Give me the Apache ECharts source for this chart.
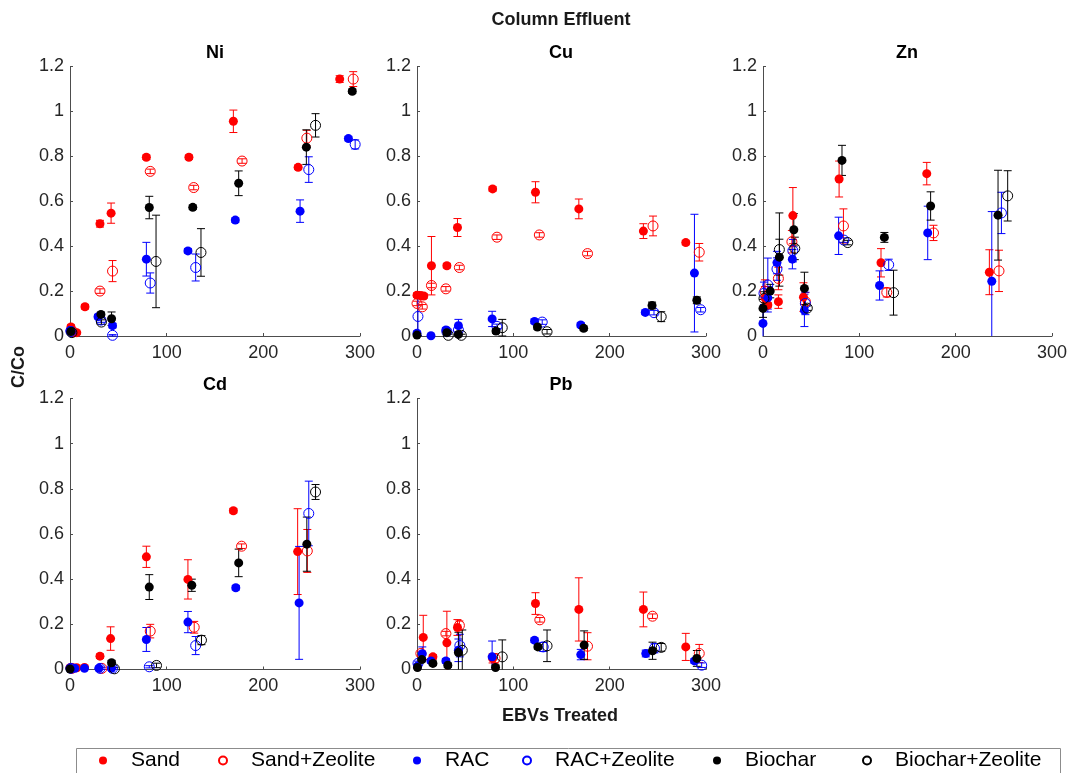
<!DOCTYPE html>
<html>
<head>
<meta charset="utf-8">
<script src="https://cdn.jsdelivr.net/npm/echarts@6/dist/echarts.min.js"></script>
<style>
html,body{margin:0;padding:0;background:#fff;}
#chart{width:1070px;height:773px;}
</style>
</head>
<body>
<div id="chart"></div>
<script>
// ---- Data: each point is [EBVs treated, C/Co, error half-width] ----
const metals = ['Ni', 'Cu', 'Zn', 'Cd', 'Pb'];
const materials = ['Sand', 'Sand+Zeolite', 'RAC', 'RAC+Zeolite', 'Biochar', 'Biochar+Zeolite'];
const xTicks = [0, 100, 200, 300];
const yTicks = [0, 0.2, 0.4, 0.6, 0.8, 1, 1.2];

const niSand = [[1,0.04,0.01],[7,0.015,0.005],[15.5,0.13,0.01],[31,0.50,0.015],[42.5,0.547,0.045],[79,0.796,0.01],[123,0.796,0.01],[169,0.956,0.05],[236,0.751,0.01],[279,1.144,0.015]];
const niSandZ = [[3,0.02,0.01],[31,0.20,0.01],[44,0.289,0.047],[83,0.733,0.01],[128,0.661,0.01],[178,0.779,0.01],[245,0.881,0.035],[293,1.144,0.033]];
const niRac = [[0,0.024,0.01],[29,0.086,0.01],[44,0.046,0.01],[79,0.342,0.075],[122,0.379,0.01],[171,0.516,0.01],[238,0.556,0.05],[288,0.879,0.01]];
const niRacZ = [[1,0.02,0.01],[32,0.071,0.01],[44,0.003,0.003],[83,0.236,0.045],[130,0.305,0.06],[247,0.741,0.057],[295,0.853,0.02]];
const niBio = [[1,0.02,0.01],[32,0.096,0.01],[43,0.077,0.03],[82,0.572,0.05],[127,0.573,0.01],[174.5,0.68,0.055],[244.5,0.841,0.077],[292,1.09,0.01]];
const niBioZ = [[2,0.015,0.01],[32.5,0.062,0.01],[89,0.332,0.206],[135.5,0.372,0.106],[254,0.938,0.052]];

const cuSand = [[0,0.182,0.01],[4,0.18,0.01],[7,0.178,0.01],[15,0.313,0.13],[31,0.313,0.01],[42,0.483,0.04],[78.5,0.655,0.01],[123,0.64,0.047],[168,0.566,0.044],[235,0.467,0.033],[279,0.416,0.01]];
const cuSandZ = [[0,0.145,0.01],[5.5,0.13,0.01],[15,0.225,0.01],[30,0.21,0.01],[44,0.305,0.01],[83,0.44,0.01],[127,0.45,0.01],[177,0.367,0.01],[245,0.49,0.044],[293,0.373,0.039]];
const cuRac = [[0,0.012,0.01],[14.5,0.001,0.003],[30,0.027,0.01],[43,0.046,0.028],[78,0.076,0.034],[122,0.065,0.01],[170,0.049,0.01],[237,0.105,0.01],[288,0.28,0.262]];
const cuRacZ = [[1,0.087,0.085],[31,0.02,0.01],[43,0.027,0.01],[83,0.043,0.01],[130,0.062,0.01],[246,0.104,0.01],[294.5,0.117,0.01]];
const cuBio = [[0,0.004,0.01],[31,0.015,0.01],[43,0.007,0.005],[82,0.022,0.01],[125,0.04,0.01],[173,0.034,0.01],[244,0.136,0.015],[290.5,0.159,0.015]];
const cuBioZ = [[32.5,0.003,0.005],[46,0.003,0.005],[88.5,0.037,0.037],[135,0.019,0.01],[253.5,0.086,0.022]];

const znSand = [[2,0.17,0.05],[5,0.138,0.01],[16,0.153,0.03],[31,0.536,0.125],[42,0.173,0.064],[79,0.699,0.08],[122.5,0.326,0.063],[170,0.723,0.05],[235,0.284,0.1]];
const znSandZ = [[2,0.2,0.05],[16,0.256,0.05],[30,0.42,0.05],[44,0.153,0.04],[83.5,0.49,0.076],[128.5,0.194,0.02],[177,0.459,0.034],[245,0.29,0.092]];
const znRac = [[0,0.056,0.07],[5,0.17,0.05],[14.5,0.327,0.05],[30.5,0.342,0.043],[43,0.114,0.072],[78.5,0.446,0.083],[121,0.225,0.065],[171,0.459,0.119],[237.5,0.244,0.31]];
const znRacZ = [[1,0.19,0.05],[5,0.227,0.12],[14.5,0.298,0.05],[31,0.38,0.05],[44,0.145,0.05],[84,0.427,0.01],[130.5,0.317,0.025],[247.5,0.548,0.092]];
const znBio = [[0,0.123,0.04],[7.5,0.2,0.03],[17,0.351,0.08],[32,0.473,0.072],[43,0.212,0.072],[82,0.782,0.067],[126,0.439,0.022],[174,0.579,0.063],[244,0.538,0.2]];
const znBioZ = [[1,0.167,0.03],[17,0.385,0.163],[33,0.39,0.05],[46,0.124,0.01],[88,0.416,0.01],[135.5,0.193,0.1],[254,0.624,0.112]];

const cdSand = [[0,0.008,0.005],[7,0.008,0.005],[15,0.009,0.005],[31,0.059,0.01],[42,0.137,0.052],[79,0.499,0.047],[122,0.399,0.087],[169,0.703,0.01],[235.5,0.522,0.19]];
const cdSandZ = [[2,0.005,0.005],[33,0.005,0.005],[83,0.17,0.03],[128.5,0.187,0.026],[177.5,0.546,0.01],[245.5,0.525,0.095]];
const cdRac = [[0,0.005,0.005],[5,0.005,0.005],[15,0.005,0.005],[30,0.005,0.005],[43,0.005,0.005],[79,0.133,0.053],[122,0.21,0.047],[171.5,0.362,0.01],[237,0.295,0.25]];
const cdRacZ = [[1,0.005,0.005],[31,0.005,0.005],[44,0.005,0.005],[82,0.012,0.005],[130,0.106,0.04],[247,0.691,0.143]];
const cdBio = [[0,0.002,0.005],[43,0.03,0.01],[82,0.365,0.055],[126,0.373,0.027],[174.5,0.472,0.061],[245,0.555,0.12]];
const cdBioZ = [[46,0.003,0.005],[89.5,0.018,0.01],[136,0.13,0.02],[254,0.786,0.033]];

const pbSand = [[6.5,0.142,0.098],[16.5,0.056,0.01],[31,0.118,0.14],[42,0.186,0.035],[78.5,0.049,0.02],[123,0.292,0.048],[168,0.266,0.14],[235,0.266,0.077],[279,0.1,0.06]];
const pbSandZ = [[4,0.071,0.01],[30,0.159,0.01],[44,0.195,0.02],[81,0.049,0.02],[127.5,0.22,0.01],[177,0.103,0.06],[244.5,0.236,0.01],[293,0.071,0.04]];
const pbRac = [[0.5,0.015,0.01],[5.5,0.07,0.03],[14.5,0.038,0.01],[30,0.038,0.01],[43,0.085,0.05],[78,0.056,0.07],[122,0.13,0.01],[170,0.066,0.023],[237.5,0.071,0.015],[288,0.038,0.01]];
const pbRacZ = [[1,0.027,0.01],[44.5,0.106,0.05],[131,0.1,0.02],[246.5,0.094,0.02],[295.5,0.019,0.01]];
const pbBio = [[0.5,0.009,0.01],[5,0.044,0.01],[16.5,0.027,0.01],[32,0.019,0.01],[43,0.075,0.09],[81.5,0.009,0.01],[125.5,0.1,0.01],[173.5,0.108,0.063],[244.5,0.083,0.038],[290.5,0.049,0.035]];
const pbBioZ = [[47,0.085,0.09],[88.5,0.056,0.075],[135,0.105,0.07],[253.5,0.098,0.017]];

const panelData = [
  [niSand, niSandZ, niRac, niRacZ, niBio, niBioZ],
  [cuSand, cuSandZ, cuRac, cuRacZ, cuBio, cuBioZ],
  [znSand, znSandZ, znRac, znRacZ, znBio, znBioZ],
  [cdSand, cdSandZ, cdRac, cdRacZ, cdBio, cdBioZ],
  [pbSand, pbSandZ, pbRac, pbRacZ, pbBio, pbBioZ]
];

// ---- Styling / layout ----
const colors = ['#ff0000', '#ff0000', '#0000ff', '#0000ff', '#000000', '#000000'];
const filled = [true, false, true, false, true, false];
const grids = [
  {left: 70, top: 66.5, width: 290, height: 269.5},
  {left: 417, top: 66.5, width: 289, height: 269.5},
  {left: 763, top: 66.5, width: 289, height: 269.5},
  {left: 70, top: 398.5, width: 290, height: 271},
  {left: 417, top: 398.5, width: 289, height: 271}
];
const FONT = '"Liberation Sans", Arial, Helvetica, sans-serif';
const axisGray = '#4d4d4d';
const textGray = '#262626';

const xAxes = grids.map((g, i) => ({
  type: 'value', gridIndex: i, min: xTicks[0], max: xTicks[xTicks.length - 1], interval: 100,
  axisLine: {show: true, lineStyle: {color: axisGray, width: 1}},
  axisTick: {show: true, inside: true, length: 3, lineStyle: {color: axisGray}},
  axisLabel: {color: textGray, fontSize: 18, fontFamily: FONT, margin: 8},
  splitLine: {show: false}
}));
const yAxes = grids.map((g, i) => ({
  type: 'value', gridIndex: i, min: yTicks[0], max: yTicks[yTicks.length - 1], interval: 0.2,
  axisLine: {show: true, lineStyle: {color: axisGray, width: 1}},
  axisTick: {show: true, inside: true, length: 3, lineStyle: {color: axisGray}},
  axisLabel: {color: textGray, fontSize: 18, fontFamily: FONT, margin: 6,
    formatter: v => String(Math.round(v * 10) / 10)},
  splitLine: {show: false}
}));

function renderErr(params, api) {
  const x = api.value(0), y = api.value(1), e = api.value(2);
  const color = api.visual('color');
  const topV = Math.min(1.2, y + e);
  const botV = Math.max(0, y - e);
  const top = api.coord([x, topV]);
  const bot = api.coord([x, botV]);
  const w = 4;
  const style = {stroke: color, lineWidth: 1, fill: null};
  const children = [
    {type: 'line', shape: {x1: top[0], y1: top[1], x2: bot[0], y2: bot[1]}, style: style}
  ];
  if (y + e <= 1.2) children.push({type: 'line', shape: {x1: top[0] - w, y1: top[1], x2: top[0] + w, y2: top[1]}, style: style});
  if (y - e >= 0) children.push({type: 'line', shape: {x1: bot[0] - w, y1: bot[1], x2: bot[0] + w, y2: bot[1]}, style: style});
  return {type: 'group', children: children};
}

const scatterSeries = [];
const errSeries = [];
panelData.forEach((sets, p) => {
  sets.forEach((d, m) => {
    errSeries.push({
      type: 'custom', name: materials[m], xAxisIndex: p, yAxisIndex: p,
      data: d, renderItem: renderErr, itemStyle: {color: colors[m], opacity: 1},
      encode: {x: 0, y: 1}, z: 2, silent: true
    });
    scatterSeries.push({
      type: 'scatter', name: materials[m], xAxisIndex: p, yAxisIndex: p,
      data: d.map(r => [r[0], r[1]]),
      symbol: 'circle', symbolSize: filled[m] ? 9 : 10,
      itemStyle: filled[m]
        ? {color: colors[m], borderWidth: 0, opacity: 1}
        : {color: 'rgba(255,255,255,0)', borderColor: colors[m], borderWidth: 1, opacity: 1},
      z: 3, silent: true
    });
  });
});

const titleCenters = [
  {x: 215, y: 53}, {x: 561, y: 53}, {x: 907, y: 53}, {x: 215, y: 385}, {x: 561, y: 385}
];
const titleTexts = [{
  type: 'text', x: 561, y: 20,
  style: {text: 'Column Effluent', textAlign: 'center', textVerticalAlign: 'middle',
    fontSize: 18, fontWeight: 'bold', fontFamily: FONT, fill: '#1a1a1a'}
}].concat(metals.map((m, i) => ({
  type: 'text', x: titleCenters[i].x, y: titleCenters[i].y,
  style: {text: m, textAlign: 'center', textVerticalAlign: 'middle',
    fontSize: 18, fontWeight: 'bold', fontFamily: FONT, fill: '#000'}
})));

const legendMarkerX = [103, 222, 417, 526, 717, 866];
const legends = materials.map((m, i) => ({
  data: [m], left: legendMarkerX[i] - 4, top: 750, padding: 0,
  itemWidth: 8, itemHeight: 8, icon: 'circle', selectedMode: false,
  textStyle: {fontSize: 21, fontFamily: FONT, color: '#000', padding: [0, 0, 0, 19]}
}));

const option = {
  animation: false,
  backgroundColor: '#ffffff',
  grid: grids,
  xAxis: xAxes,
  yAxis: yAxes,
  legend: legends,
  series: scatterSeries.concat(errSeries),
  graphic: titleTexts.concat([
    {type: 'text', x: 19, y: 367, rotation: Math.PI / 2,
      style: {text: 'C/Co', textAlign: 'center', textVerticalAlign: 'middle',
        fontSize: 18, fontWeight: 'bold', fontFamily: FONT, fill: '#1a1a1a'}},
    {type: 'text', x: 560, y: 716,
      style: {text: 'EBVs Treated', textAlign: 'center', textVerticalAlign: 'middle',
        fontSize: 18, fontWeight: 'bold', fontFamily: FONT, fill: '#1a1a1a'}},
    {type: 'rect', left: 74, top: 746, shape: {width: 984, height: 40},
      style: {fill: null, stroke: '#8c8c8c', lineWidth: 1}, z: -1, silent: true}
  ])
};

const chart = echarts.init(document.getElementById('chart'), null, {renderer: 'canvas'});
chart.setOption(option);
</script>
</body>
</html>
